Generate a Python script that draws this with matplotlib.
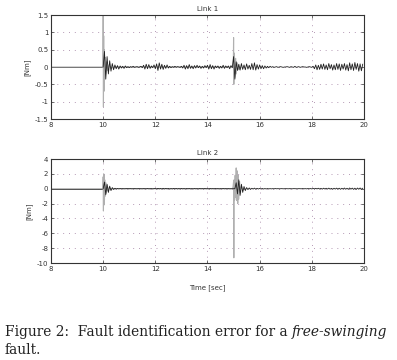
import numpy as np
import matplotlib
matplotlib.use('Agg')
import matplotlib.pyplot as plt

# time grid for the black traces (10 .. 19.95 s, 0.05 s step)
t_black = np.arange(10.0, 20.0, 0.05)

# Link 1, black trace (one row per second)
link1_black = [
    0.0, 0.45, -0.35, 0.3, -0.2, 0.18, -0.12, 0.1, -0.08, 0.06, -0.05, 0.04, -0.06, 0.03, -0.03, 0.02, -0.04, 0.03, -0.02, 0.01,
    -0.02, 0.01, -0.01, 0.02, -0.01, 0.0, 0.01, -0.01, 0.0, 0.02, -0.02, 0.05, -0.06, 0.08, -0.05, 0.07, -0.04, 0.03, -0.02, 0.06,
    -0.05, 0.09, -0.1, 0.12, -0.06, 0.08, -0.07, 0.05, -0.04, 0.06, -0.03, 0.02, -0.02, 0.01, -0.01, 0.02, -0.01, 0.01, 0.0, -0.01,
    0.02, -0.03, 0.05, -0.06, 0.04, -0.05, 0.07, -0.04, 0.03, -0.05, 0.04, -0.03, 0.05, -0.02, 0.03, -0.04, 0.02, -0.03, 0.04, -0.02,
    0.05, -0.06, 0.07, -0.05, 0.04, -0.06, 0.03, -0.02, 0.03, -0.04, 0.02, -0.03, 0.05, -0.04, 0.03, -0.02, 0.03, -0.05, 0.04, -0.02,
    0.3, -0.35, 0.15, -0.1, 0.08, -0.09, 0.1, -0.07, 0.06, -0.08, 0.09, -0.06, 0.05, -0.07, 0.1, -0.08, 0.12, -0.09, 0.07, -0.06,
    0.06, -0.05, 0.04, -0.05, 0.03, -0.03, 0.02, -0.02, 0.02, -0.01, 0.01, -0.01, 0.0, 0.01, -0.01, 0.0, 0.01, 0.0, -0.01, 0.0,
    0.0, 0.01, 0.0, -0.01, 0.01, 0.0, -0.01, 0.02, -0.01, 0.0, 0.01, -0.01, 0.0, 0.01, 0.0, 0.0, -0.01, 0.0, 0.01, 0.0,
    -0.01, 0.02, -0.05, 0.06, -0.08, 0.05, -0.07, 0.08, -0.06, 0.09, -0.07, 0.06, -0.08, 0.1, -0.05, 0.07, -0.09, 0.06, -0.08, 0.1,
    -0.07, 0.09, -0.1, 0.08, -0.06, 0.1, -0.09, 0.07, -0.11, 0.12, -0.08, 0.09, -0.1, 0.13, -0.07, 0.1, -0.12, 0.09, -0.11, 0.08,
]

# Link 2, black trace
link2_black = [
    0.0, 0.9, -0.8, 0.6, -0.5, 0.35, -0.25, 0.15, -0.1, 0.06, -0.04, 0.03, -0.02, 0.02, -0.01, 0.01, -0.01, 0.0, 0.01, 0.0,
    0.0, 0.01, -0.01, 0.0, 0.01, 0.0, -0.01, 0.01, 0.0, 0.0, -0.01, 0.01, 0.0, -0.01, 0.02, -0.01, 0.0, 0.01, -0.02, 0.01,
    0.02, -0.03, 0.04, -0.02, 0.03, -0.04, 0.05, -0.03, 0.04, -0.02, 0.03, -0.04, 0.02, -0.03, 0.04, -0.02, 0.03, -0.03, 0.02, -0.02,
    0.03, -0.02, 0.02, -0.03, 0.02, -0.01, 0.02, -0.02, 0.01, -0.02, 0.02, -0.01, 0.01, -0.02, 0.02, -0.01, 0.01, -0.01, 0.02, -0.01,
    0.01, -0.02, 0.02, -0.01, 0.01, -0.01, 0.02, -0.01, 0.01, -0.02, 0.01, -0.01, 0.02, -0.01, 0.01, -0.01, 0.01, -0.01, 0.0, 0.0,
    0.0, 0.0, 0.8, -0.7, 1.2, -0.9, 0.6, -0.5, 0.3, -0.25, 0.15, -0.12, 0.1, -0.08, 0.06, -0.05, 0.08, -0.06, 0.05, -0.04,
    0.04, -0.03, 0.03, -0.04, 0.02, -0.03, 0.02, -0.02, 0.01, -0.02, 0.01, -0.01, 0.02, -0.01, 0.01, -0.01, 0.0, 0.01, -0.01, 0.0,
    0.01, 0.0, -0.01, 0.01, 0.0, -0.01, 0.01, 0.0, 0.0, -0.01, 0.01, 0.0, -0.01, 0.02, -0.01, 0.01, -0.02, 0.02, -0.01, 0.02,
    -0.03, 0.04, -0.02, 0.05, -0.03, 0.06, -0.04, 0.05, -0.06, 0.07, -0.04, 0.06, -0.05, 0.08, -0.06, 0.05, -0.07, 0.06, -0.05, 0.08,
    -0.06, 0.07, -0.08, 0.06, -0.05, 0.09, -0.07, 0.06, -0.08, 0.1, -0.06, 0.08, -0.09, 0.07, -0.1, 0.09, -0.07, 0.1, -0.08, 0.06,
]

# grey traces: only the fault spikes (elsewhere they sit under the black trace)
t_grey1 = [8.0, 9.99, 10.0, 10.01, 10.02, 10.03, 10.04, 10.06, 10.08, 10.1, 10.13, 10.17, 10.22, 10.3, 10.4,
           14.97, 14.99, 15.0, 15.01, 15.03, 15.05, 15.08, 15.1, 15.14, 15.2, 15.3]
link1_grey = [0.0, 0.0, 1.5, -1.15, 0.9, -0.7, 0.5, -0.35, 0.28, -0.2, 0.15, -0.1, 0.06, -0.04, 0.0,
              0.0, 0.02, 0.85, -0.5, 0.4, -0.3, 0.25, -0.2, 0.12, -0.08, 0.0]

t_grey2 = [8.0, 9.99, 10.0, 10.01, 10.02, 10.03, 10.04, 10.05, 10.06, 10.08, 10.1, 10.12, 10.15, 10.18, 10.22, 10.3, 10.4,
           14.96, 14.98, 15.0, 15.01, 15.02, 15.04, 15.06, 15.08, 15.1, 15.12, 15.14, 15.16, 15.18, 15.2, 15.23, 15.26, 15.3, 15.35, 15.45]
link2_grey = [0.0, 0.0, 1.6, -3.0, 2.0, -2.2, 1.8, -1.5, 1.2, -1.0, 0.8, -0.6, 0.4, -0.3, 0.15, -0.05, 0.0,
              0.0, 0.3, 1.0, -9.3, 1.2, -1.5, 1.8, -1.2, 2.8, -1.6, 2.4, -2.0, 1.8, -1.4, 1.0, -0.6, 0.4, -0.15, 0.0]

grid_col = '#b59ab5'

fig = plt.figure(figsize=(3.97, 3.60), dpi=100)
plt.rcParams['font.family'] = 'DejaVu Sans'

ax1 = fig.add_axes([51/397, 1 - 119/360, 313/397, 104/360])
ax2 = fig.add_axes([51/397, 1 - 263/360, 313/397, 104/360])

panels = [
    (ax1, t_grey1, link1_grey, link1_black, 'Link 1', (-1.5, 1.5), [-1.5, -1, -0.5, 0, 0.5, 1, 1.5], ['-1.5', '-1', '-0.5', '0', '0.5', '1', '1.5']),
    (ax2, t_grey2, link2_grey, link2_black, 'Link 2', (-10, 4), [-10, -8, -6, -4, -2, 0, 2, 4], ['-10', '-8', '-6', '-4', '-2', '0', '2', '4']),
]

for ax, tg, vg, vb, title, ylim, yt, ytl in panels:
    ax.plot([8.0, 10.0], [0, 0], color='#303030', lw=0.7)
    ax.plot(tg, vg, color='#b0b0b0', lw=0.8)
    ax.plot(t_black, vb, color='#202020', lw=0.6)
    ax.set_xlim(8, 20)
    ax.set_ylim(*ylim)
    ax.set_xticks([8, 10, 12, 14, 16, 18, 20])
    ax.set_xticklabels(['8', '10', '12', '14', '16', '18', '20'])
    ax.set_yticks(yt)
    ax.set_yticklabels(ytl)
    ax.grid(True, color=grid_col, linestyle=(0, (1, 5)), lw=0.7)
    ax.tick_params(direction='in', length=2, width=0.5, labelsize=5, pad=2,
                   top=True, right=True, colors='#333333')
    for s in ax.spines.values():
        s.set_linewidth(0.8)
        s.set_color('#333333')
    ax.set_title(title, fontsize=5, pad=3, color='#333333')
    ax.set_ylabel('[Nm]', fontsize=5, labelpad=3, color='#333333')

ax2.set_xlabel('Time [sec]', fontsize=5, labelpad=9, color='#333333')

# caption
cap_font = 'DejaVu Serif'
cap_size = 9.9
t1 = fig.text(5/397, 1 - 332/360, 'Figure 2:  Fault identification error for a ',
              fontsize=cap_size, family=cap_font, va='center', color='#222222')
fig.canvas.draw()
bb = t1.get_window_extent()
fig.text(bb.x1 / fig.bbox.width, 1 - 332/360, 'free-swinging', fontsize=cap_size,
         family=cap_font, style='italic', va='center', color='#222222')
fig.text(5/397, 1 - 350/360, 'fault.', fontsize=cap_size, family=cap_font,
         va='center', color='#222222')

fig.savefig('out.png', dpi=100)
